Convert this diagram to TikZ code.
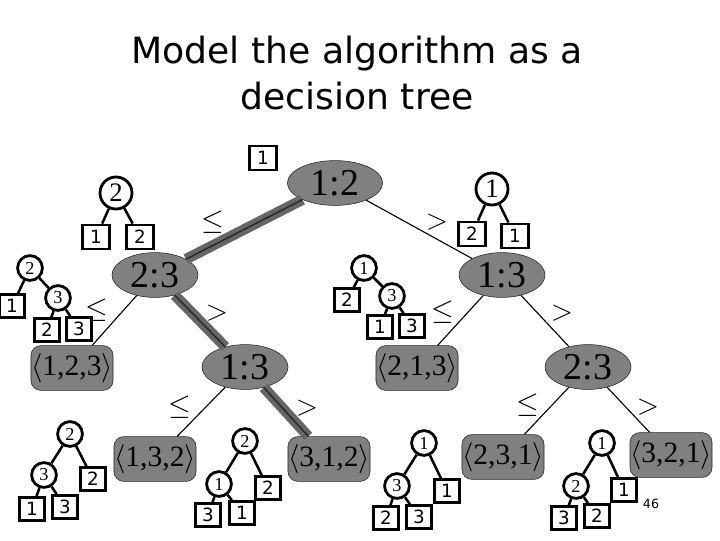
\documentclass[tikz,border=0pt]{standalone}
\usepackage{fontspec}
\setmainfont{Liberation Serif}
\newfontfamily\titlefont{DejaVu Sans}
\usetikzlibrary{shapes.geometric}
\tikzset{
  cmp/.style={ellipse,draw=black!85,fill=black!50,minimum width=2.15cm,minimum height=1.12cm,inner sep=0pt,font=\fontsize{27}{27}\selectfont},
  perm/.style={rectangle,rounded corners=7pt,draw=black!85,fill=black!50,minimum width=2.05cm,minimum height=1.12cm,inner sep=0pt,font=\fontsize{21}{21}\selectfont},
  knot/.style={circle,draw,line width=2pt,fill=white,minimum size=0.8cm,inner sep=0pt,font=\fontsize{19}{19}\selectfont},
  sknot/.style={knot,minimum size=0.62cm,font=\fontsize{13}{13}\selectfont},
  numbox/.style={rectangle,draw,line width=2pt,fill=white,minimum width=0.68cm,minimum height=0.6cm,inner sep=0pt,font=\titlefont\fontsize{13}{13}\selectfont},
  snumbox/.style={numbox,minimum width=0.62cm,minimum height=0.57cm},
  twig/.style={line width=1.8pt},
  plain/.style={line width=0.8pt},
  hot/.style={line width=7.5pt,draw=black!60,postaction={draw=black!85,line width=1pt}},
  rel/.style={font=\fontsize{20}{20}\selectfont}
}
\begin{document}
\begin{tikzpicture}[x=0.025cm,y=-0.025cm]
\useasboundingbox (0,0) rectangle (720,540);
% title
\node[font=\titlefont\fontsize{25.7}{33}\selectfont,align=center] (title) at (357,73) {Model the algorithm as a\\decision tree};
% comparisons
\node[cmp,minimum width=2.38cm] (c12) at (335,183) {1:2};
\node[cmp] (c23) at (155,275) {2:3};
\node[cmp] (c13) at (502,275) {1:3};
\node[cmp] (m13) at (245,367) {1:3};
\node[cmp] (r23) at (588,367) {2:3};
% leaves
\node[perm] (p123) at (72,368) {$\langle$1,2,3$\rangle$};
\node[perm] (p213) at (417,368) {$\langle$2,1,3$\rangle$};
\node[perm] (p132) at (155,459) {$\langle$1,3,2$\rangle$};
\node[perm] (p312) at (329,459) {$\langle$3,1,2$\rangle$};
\node[perm] (p231) at (503,457) {$\langle$2,3,1$\rangle$};
\node[perm] (p321) at (671,455) {$\langle$3,2,1$\rangle$};
% branches, the path taken is the thick one
\draw[hot] (c12) -- (c23);
\draw[hot] (c23) -- (m13);
\draw[hot] (m13) -- (p312);
\draw[plain] (c12) -- (c13);
\draw[plain] (c23) -- (p123);
\draw[plain] (c13) -- (p213);
\draw[plain] (c13) -- (r23);
\draw[plain] (m13) -- (p132);
\draw[plain] (r23) -- (p231);
\draw[plain] (r23) -- (p321);
% edit here for the branch signs
\node[rel] (le1) at (213,222) {$\leq$};
\node[rel] (gt1) at (437,222) {$>$};
\node[rel] (le2) at (97,310) {$\leq$};
\node[rel] (gt2) at (217,313) {$>$};
\node[rel] (le3) at (443,312) {$\leq$};
\node[rel] (gt3) at (562,313) {$>$};
\node[rel] (le4) at (180,407) {$\leq$};
\node[rel] (gt4) at (307,408) {$>$};
\node[rel] (le5) at (528,405) {$\leq$};
\node[rel] (gt5) at (648,407) {$>$};
% small trees at the top
\node[numbox] (s0) at (263,158) {1};
\node[knot] (a) at (116,193) {2};
\node[numbox] (a1) at (96,237) {1};
\node[numbox] (a2) at (140,237) {2};
\draw[twig] (a) -- (a1) (a) -- (a2);
\node[knot] (b) at (492,189) {1};
\node[numbox] (b1) at (472,234) {2};
\node[numbox] (b2) at (515,236) {1};
\draw[twig] (b) -- (b1) (b) -- (b2);
% small trees in the middle
\node[sknot] (d) at (30,268) {2};
\node[snumbox] (d1) at (12,306) {1};
\node[sknot] (d2) at (58,298) {3};
\node[snumbox] (d21) at (47,330) {2};
\node[snumbox] (d22) at (79,329) {3};
\draw[twig] (d) -- (d1) (d) -- (d2) (d2) -- (d21) (d2) -- (d22);
\node[sknot] (e) at (364,268) {1};
\node[snumbox] (e1) at (347,300) {2};
\node[sknot] (e2) at (392,296) {3};
\node[snumbox] (e21) at (380,327) {1};
\node[snumbox] (e22) at (412,326) {3};
\draw[twig] (e) -- (e1) (e) -- (e2) (e2) -- (e21) (e2) -- (e22);
% small trees at the bottom
\node[sknot] (f) at (70,434) {2};
\node[sknot] (f1) at (44,475) {3};
\node[snumbox] (f2) at (93,479) {2};
\node[snumbox] (f11) at (32,509) {1};
\node[snumbox] (f12) at (65,507) {3};
\draw[twig] (f) -- (f1) (f) -- (f2) (f1) -- (f11) (f1) -- (f12);
\node[sknot] (g) at (245,441) {2};
\node[sknot] (g1) at (219,484) {1};
\node[snumbox] (g2) at (268,488) {2};
\node[snumbox] (g11) at (208,515) {3};
\node[snumbox] (g12) at (242,513) {1};
\draw[twig] (g) -- (g1) (g) -- (g2) (g1) -- (g11) (g1) -- (g12);
\node[sknot] (h) at (424,443) {1};
\node[sknot] (h1) at (397,486) {3};
\node[snumbox] (h2) at (447,491) {1};
\node[snumbox] (h11) at (386,518) {2};
\node[snumbox] (h12) at (419,517) {3};
\draw[twig] (h) -- (h1) (h) -- (h2) (h1) -- (h11) (h1) -- (h12);
\node[sknot] (k) at (602,443) {1};
\node[sknot] (k1) at (576,486) {2};
\node[snumbox] (k2) at (624,490) {1};
\node[snumbox] (k11) at (564,518) {3};
\node[snumbox] (k12) at (597,516) {2};
\draw[twig] (k) -- (k1) (k) -- (k2) (k1) -- (k11) (k1) -- (k12);
% page number
\node[font=\titlefont\fontsize{9}{9}\selectfont] (pg) at (651,504) {46};
\end{tikzpicture}
\end{document}
